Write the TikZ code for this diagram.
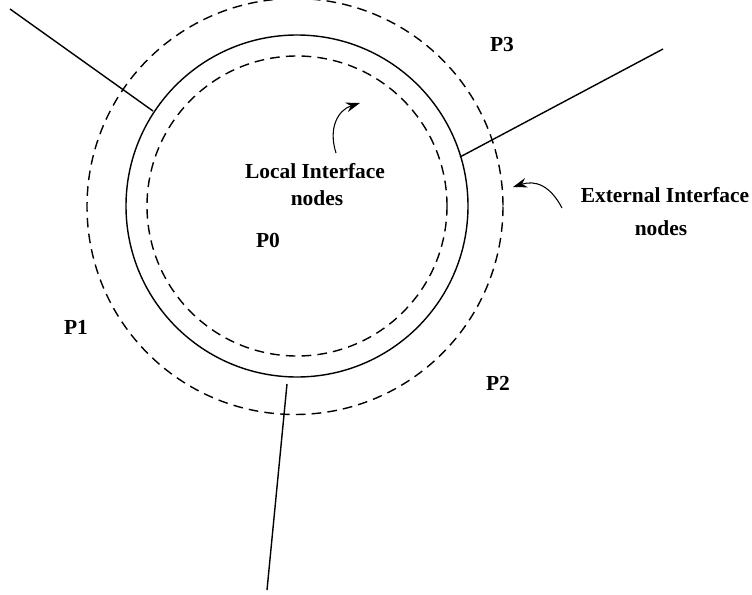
\documentclass[tikz,border=0pt]{standalone}
\usepackage{fontspec}
\setmainfont{Liberation Serif}
\usetikzlibrary{arrows.meta}
\tikzset{lbl/.style={font=\bfseries\fontsize{12.2}{14}\selectfont,inner sep=0pt}}
\tikzset{ring/.style={line width=0.8pt}}
\tikzset{dashring/.style={line width=0.8pt,dash pattern=on 5.5pt off 3.5pt}}

\begin{document}
\begin{tikzpicture}[x=0.02cm,y=-0.02cm]
\useasboundingbox (0,0) rectangle (752,595);

% Centre of the partition P0
\coordinate (c) at (297,206);

% Solid boundary and the two dashed interface rings
\draw[ring] (c) circle (171);
\draw[dashring] (c) circle (150);
\draw[dashring] (295,206.5) circle (208);

% Cut lines separating the neighbour partitions
\coordinate (a1) at (10,9);
\coordinate (a2) at (153,111);
\coordinate (b1) at (460,157);
\coordinate (b2) at (663,49);
\coordinate (d1) at (287,384);
\coordinate (d2) at (267,590);
\draw[ring] (a1) -- (a2);
\draw[ring] (b1) -- (b2);
\draw[ring] (d1) -- (d2);

% Partition labels
\node[lbl] at (268,240) (p0) {P0};
\node[lbl] at (76,327) (p1) {P1};
\node[lbl] at (498,383) (p2) {P2};
\node[lbl] at (502,45) (p3) {P3};

% Interface labels
\node[lbl] at (315,171) (loc) {Local Interface};
\node[lbl] at (317,198) (locn) {nodes};
\node[lbl] at (665,195) (ext) {External Interface};
\node[lbl] at (661,228) (extn) {nodes};

% Pointers to the interface rings
\coordinate (l1) at (336,153);
\coordinate (l2) at (360,103);
\coordinate (e1) at (562,208);
\coordinate (e2) at (513,187);
\draw[line width=0.6pt,-{Stealth[length=8pt,width=5.5pt]}] (l1) .. controls (328,128) and (338,110) .. (l2);
\draw[line width=0.6pt,-{Stealth[length=8pt,width=5.5pt]}] (e1) .. controls (550,185) and (535,180) .. (e2);

\end{tikzpicture}
\end{document}
